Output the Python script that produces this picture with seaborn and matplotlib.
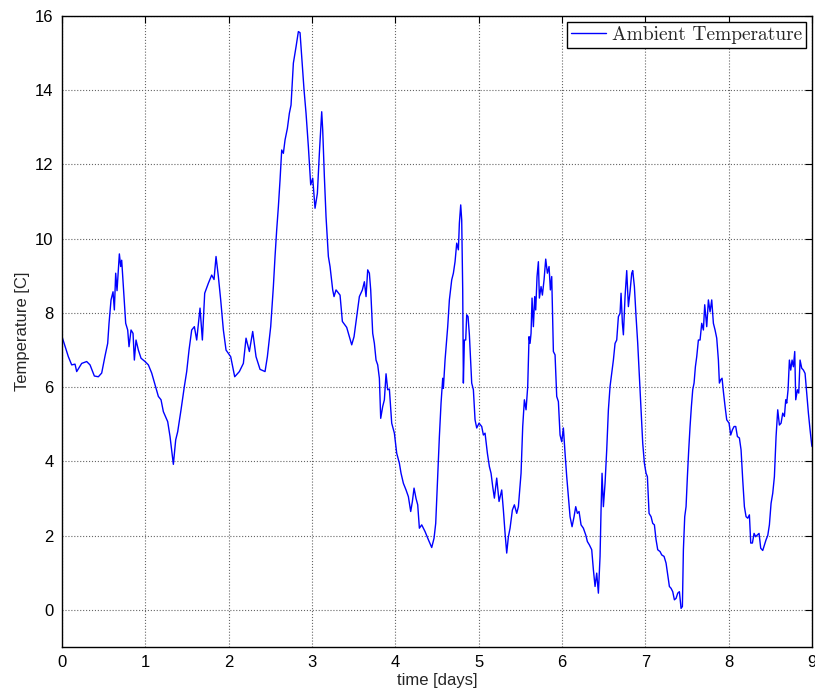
import seaborn as sns
import matplotlib.pyplot as plt
import pandas as pd

# values (time in days, temperature in C)
time_days = [
    0.000, 0.076, 0.116, 0.156, 0.176, 0.236, 0.296, 0.336, 0.388, 0.436, 0.476, 0.516,
    0.548, 0.564, 0.588, 0.612, 0.628, 0.644, 0.660, 0.688, 0.704, 0.716, 0.736, 0.764,
    0.788, 0.804, 0.828, 0.852, 0.868, 0.888, 0.916, 0.948, 0.996, 1.036, 1.076, 1.116,
    1.156, 1.188, 1.216, 1.268, 1.296, 1.336, 1.364, 1.388, 1.428, 1.468, 1.496, 1.524,
    1.556, 1.588, 1.616,
    1.656, 1.684, 1.712, 1.756, 1.796, 1.824, 1.848, 1.876, 1.904, 1.936, 1.968, 2.024,
    2.072, 2.128, 2.176, 2.208, 2.248, 2.288, 2.328, 2.376, 2.436, 2.464, 2.504, 2.536,
    2.556, 2.576, 2.596, 2.616, 2.636, 2.656, 2.676, 2.704, 2.728, 2.748, 2.776, 2.808,
    2.836, 2.856, 2.876, 2.904, 2.928, 2.956, 2.984, 3.008, 3.036, 3.064, 3.088, 3.116,
    3.128, 3.148, 3.168, 3.196,
    3.216, 3.248, 3.264, 3.288, 3.336, 3.364, 3.416, 3.448, 3.476, 3.504, 3.536, 3.568,
    3.604, 3.628, 3.648, 3.668, 3.688, 3.704, 3.728, 3.748, 3.768, 3.788, 3.808, 3.824,
    3.848, 3.868, 3.888, 3.908, 3.928, 3.956, 3.988, 4.016, 4.048, 4.068, 4.096, 4.128,
    4.156, 4.184, 4.204, 4.224, 4.248, 4.268, 4.288, 4.316, 4.356, 4.396, 4.436, 4.464,
    4.484, 4.504, 4.528, 4.548, 4.568, 4.576, 4.596, 4.616, 4.628, 4.648, 4.676, 4.696,
    4.716, 4.736, 4.756, 4.768, 4.784, 4.796, 4.808, 4.816, 4.828, 4.844, 4.856, 4.872,
    4.888,
    4.916, 4.936, 4.956, 4.976, 5.004, 5.036, 5.056, 5.076, 5.104, 5.128, 5.148, 5.168,
    5.188, 5.216, 5.244, 5.276, 5.296, 5.316, 5.336, 5.356, 5.376, 5.404, 5.428, 5.456,
    5.476, 5.496, 5.508, 5.528, 5.548, 5.568, 5.588, 5.604, 5.616, 5.628, 5.640, 5.656,
    5.672, 5.684, 5.700, 5.716, 5.728, 5.748, 5.764, 5.784, 5.804, 5.824, 5.844, 5.860,
    5.876, 5.896, 5.916, 5.936, 5.956, 5.976, 5.996, 6.016, 6.036, 6.056, 6.076, 6.096,
    6.120, 6.144, 6.164, 6.184, 6.204, 6.228, 6.256, 6.284, 6.304, 6.328,
    6.356, 6.376, 6.396, 6.416, 6.436, 6.456, 6.468, 6.480, 6.496, 6.516, 6.536, 6.556,
    6.576, 6.596, 6.616, 6.636, 6.656, 6.676, 6.696, 6.708, 6.724, 6.736, 6.756, 6.776,
    6.796, 6.816, 6.836, 6.848, 6.868, 6.888, 6.908, 6.928, 6.948, 6.968, 6.988, 7.008,
    7.024, 7.044, 7.068, 7.088, 7.108, 7.128, 7.148, 7.176, 7.196, 7.224, 7.248, 7.268,
    7.288, 7.308, 7.328, 7.348, 7.368, 7.388, 7.408, 7.428, 7.444, 7.456, 7.472, 7.488,
    7.504, 7.520, 7.536, 7.552, 7.568, 7.584, 7.600, 7.616, 7.636,
    7.656, 7.676, 7.696, 7.712, 7.736, 7.756, 7.776, 7.796, 7.816, 7.836, 7.856, 7.876,
    7.888, 7.904, 7.920, 7.936, 7.956, 7.976, 8.004, 8.024, 8.044, 8.064, 8.084, 8.104,
    8.128, 8.148, 8.168, 8.188, 8.208, 8.228, 8.248, 8.264, 8.284, 8.304, 8.324, 8.344,
    8.364, 8.384, 8.408, 8.428, 8.448, 8.468, 8.488, 8.508, 8.528, 8.548, 8.568, 8.588,
    8.608, 8.628, 8.648, 8.668, 8.684, 8.696, 8.712, 8.728, 8.744, 8.760, 8.776, 8.792,
    8.804, 8.824, 8.840, 8.856, 8.876, 8.896, 8.916, 8.936, 8.956, 8.976, 8.996, 9.000,
]
temp_c = [
    7.36, 6.82, 6.60, 6.62, 6.42, 6.64, 6.69, 6.60, 6.30, 6.28, 6.38, 6.84,
    7.18, 7.72, 8.35, 8.57, 8.08, 9.07, 8.60, 9.59, 9.25, 9.42, 8.71, 7.72,
    7.54, 7.09, 7.54, 7.45, 6.73, 7.27, 7.00, 6.78, 6.69, 6.60, 6.38, 6.06,
    5.75, 5.66, 5.34, 5.07, 4.67, 3.92, 4.58, 4.80, 5.39, 6.02, 6.42, 7.00,
    7.54, 7.63, 7.27,
    8.13, 7.27, 8.53, 8.80, 9.02, 8.90, 9.52, 8.98, 8.35, 7.54, 7.00, 6.82,
    6.28, 6.42, 6.64, 7.32, 6.96, 7.50, 6.82, 6.48, 6.42, 6.82, 7.63, 8.71,
    9.52, 10.24, 10.86, 11.58, 12.39, 12.30, 12.66, 12.97, 13.38, 13.60, 14.73, 15.17,
    15.58, 15.55, 14.90, 14.01, 13.38, 12.48, 11.45, 11.63, 10.82, 11.22, 12.30, 13.42,
    12.93, 11.67, 10.59, 9.52,
    9.25, 8.62, 8.44, 8.62, 8.48, 7.77, 7.61, 7.36, 7.14, 7.36, 7.90, 8.44,
    8.62, 8.84, 8.44, 9.16, 9.07, 8.62, 7.45, 7.18, 6.73, 6.60, 6.24, 5.16,
    5.48, 5.66, 6.36, 5.93, 5.95, 5.03, 4.76, 4.22, 3.95, 3.68, 3.41, 3.23,
    3.05, 2.65, 2.92, 3.28, 3.00, 2.83, 2.20, 2.29, 2.11, 1.89, 1.68, 1.93,
    2.33, 3.41, 4.67, 5.57, 6.24, 5.97, 6.73, 7.27, 7.63, 8.35, 8.89, 9.07,
    9.38, 9.88, 9.70, 10.42, 10.91, 10.50, 8.62, 6.11, 7.27, 7.27, 7.95, 7.90,
    7.41,
    6.11, 5.93, 5.12, 4.90, 5.03, 4.94, 4.71, 4.76, 4.22, 3.86, 3.68, 3.32,
    3.01, 3.55, 2.92, 3.23, 2.69, 2.07, 1.53, 1.97, 2.20, 2.69, 2.83, 2.60,
    2.78, 3.32, 3.68, 4.94, 5.66, 5.39, 6.02, 7.36, 7.18, 7.45, 8.40, 7.63,
    8.44, 8.08, 8.98, 9.38, 8.40, 8.71, 8.48, 8.89, 9.45, 9.07, 9.25, 8.62,
    8.98, 6.96, 6.87, 5.75, 5.61, 4.71, 4.53, 4.90, 4.22, 3.59, 3.05, 2.51,
    2.24, 2.51, 2.78, 2.60, 2.65, 2.29, 2.20, 2.02, 1.84, 1.75,
    1.62, 1.08, 0.63, 0.99, 0.45, 1.44, 2.69, 3.68, 2.78, 3.41, 4.31, 5.39,
    6.02, 6.37, 6.73, 7.18, 7.27, 7.90, 7.99, 8.53, 7.72, 7.41, 8.44, 9.14,
    8.17, 8.58, 9.07, 9.14, 8.71, 7.90, 7.18, 6.28, 5.39, 4.49, 3.95, 3.68,
    3.59, 2.60, 2.51, 2.33, 2.29, 1.89, 1.62, 1.57, 1.48, 1.44, 1.26, 0.94,
    0.63, 0.58, 0.49, 0.27, 0.31, 0.45, 0.49, 0.04, 0.09, 1.62, 2.51, 2.78,
    3.59, 4.31, 4.94, 5.48, 5.93, 6.11, 6.55, 6.82, 7.27,
    7.27, 7.72, 7.54, 8.22, 7.63, 8.35, 8.03, 8.35, 7.72, 7.54, 7.32, 6.73,
    6.11, 6.20, 6.24, 5.88, 5.48, 5.12, 5.03, 4.71, 4.85, 4.94, 4.94, 4.67,
    4.63, 4.31, 3.50, 2.78, 2.51, 2.47, 2.56, 1.80, 1.80, 2.06, 1.97, 2.02,
    2.06, 1.66, 1.60, 1.75, 1.89, 2.00, 2.29, 2.87, 3.14, 3.59, 4.67, 5.39,
    4.98, 5.03, 5.30, 5.21, 5.66, 5.57, 5.93, 6.73, 6.46, 6.73, 6.55, 6.96,
    5.66, 5.93, 5.84, 6.73, 6.51, 6.46, 6.37, 5.84, 5.30, 4.85, 4.44, 4.40,
]
x_ticks = list(range(0, 10))
y_ticks = list(range(0, 17, 2))

sns.set_style("white")
plt.rcParams['font.family'] = ['Liberation Sans', 'DejaVu Sans']

df = pd.DataFrame({'time': time_days, 'temp': temp_c})

fig = plt.figure(figsize=(8.15, 6.95), dpi=100)
ax = fig.add_axes([0.0761, 0.0691, 0.9203, 0.9079])
sns.lineplot(data=df, x='time', y='temp', color='#0000ff', linewidth=1.0,
             sort=False, estimator=None, label='Ambient Temperature', ax=ax)

ax.set_xlim(0, 9)
ax.set_ylim(-1, 16)
ax.set_xticks(x_ticks)
ax.set_yticks(y_ticks)
ax.grid(True, linestyle=':', color='#666666', linewidth=0.8)
ax.tick_params(direction='in', length=5, width=0.8, top=True, right=True,
               labelsize=12, colors='black', pad=6)
for s in ax.spines.values():
    s.set_color('black')
    s.set_linewidth(1.0)
ax.set_xlabel('time [days]', fontsize=12, labelpad=2)
ax.set_ylabel('Temperature [C]', fontsize=12, labelpad=4)

leg = ax.legend(loc='upper right', prop={'family': 'cmr10', 'size': 14},
                fancybox=False, framealpha=1, edgecolor='black',
                handlelength=1.8, borderpad=0.2, borderaxespad=0.3,
                handletextpad=0.3)
leg.get_frame().set_linewidth(1.0)

fig.savefig('out.png', dpi=100)
